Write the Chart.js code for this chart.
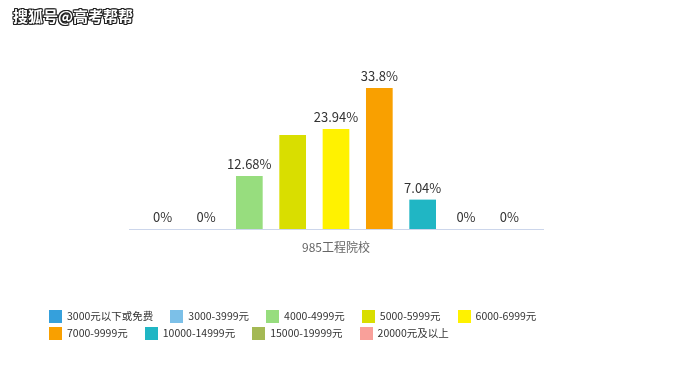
<!DOCTYPE html>
<html>
<head>
<meta charset="utf-8">
<script src="https://cdn.jsdelivr.net/npm/chart.js@4/dist/chart.umd.min.js"></script>
<style>
    html, body { margin: 0; padding: 0; background: #fff; }
    #wrap { position: relative; width: 691px; height: 366px; font-family: "Noto Sans CJK SC", "Noto Sans", sans-serif; }
    #wrap canvas { position: absolute; left: 0; top: 0; }
    .mark {
        position: absolute; left: 13px; top: 5px;
        font-size: 15px; font-weight: bold; color: #fff;
        text-shadow: -1px -1px 0 #222, 1px -1px 0 #222, -1px 1px 0 #222, 1px 1px 0 #222, 1px 0 0 #222, -1px 0 0 #222, 0 1px 0 #222, 0 -1px 0 #222;
    }
    #legend {
        position: absolute; left: 49px; top: 309px; width: 580px;
        display: flex; flex-wrap: wrap; row-gap: 3px; column-gap: 17px;
        font-size: 10.5px; color: #333; line-height: 14px;
    }
    .item { display: flex; align-items: center; white-space: nowrap; }
    .box { width: 13px; height: 13px; margin-right: 5px; }
</style>
</head>
<body>
<div id="wrap">
    <canvas id="salaryChart" width="691" height="366"></canvas>
    <div class="mark">搜狐号@高考帮帮</div>
    <div id="legend"></div>
</div>

<script>
// categories and series
const categories = ['985工程院校'];
const seriesNames = ['3000元以下或免费', '3000-3999元', '4000-4999元', '5000-5999元', '6000-6999元',
    '7000-9999元', '10000-14999元', '15000-19999元', '20000元及以上'];
const seriesValues = [0, 0, 12.68, 22.54, 23.94, 33.8, 7.04, 0, 0];
const seriesColors = ['#35a0dc', '#7cc0e8', '#97dd7e', '#d9de00', '#fff200',
    '#f9a000', '#20b6c4', '#a4b954', '#f9a09a'];
// the 5000-5999 bar has no value label in the original
const showLabel = [true, true, true, false, true, true, true, true, true];

const valueLabels = {
    id: 'valueLabels',
    afterDatasetsDraw(chart) {
        const ctx = chart.ctx;
        ctx.save();
        ctx.font = '13px "Noto Sans CJK SC", "Noto Sans", sans-serif';
        ctx.fillStyle = '#333';
        ctx.textAlign = 'center';
        ctx.textBaseline = 'bottom';
        chart.data.datasets.forEach((ds, i) => {
            if (!showLabel[i]) return;
            const bar = chart.getDatasetMeta(i).data[0];
            ctx.fillText(ds.data[0] + '%', bar.x, bar.y - 5);
        });
        ctx.restore();
    }
};

const chart = new Chart(document.getElementById('salaryChart'), {
    type: 'bar',
    data: {
        labels: categories,
        datasets: seriesNames.map((name, i) => ({
            label: name,
            data: [seriesValues[i]],
            backgroundColor: seriesColors[i],
            categoryPercentage: 0.942,
            barPercentage: 0.616
        }))
    },
    options: {
        responsive: false,
        animation: false,
        layout: { padding: { left: 129, right: 148, top: 62, bottom: 0 } },
        plugins: {
            legend: { display: false },
            tooltip: { enabled: false }
        },
        scales: {
            x: {
                grid: { display: false, drawTicks: true },
                border: { color: '#ccd6eb', width: 1 },
                ticks: { color: '#666', font: { size: 12, family: '"Noto Sans CJK SC", sans-serif' } },
                afterFit: (s) => { s.height = 137; }
            },
            y: { display: false, min: 0, max: 40 }
        }
    },
    plugins: [valueLabels]
});

// html legend from the chart's own legend items
const legendEl = document.getElementById('legend');
chart.options.plugins.legend.labels.generateLabels(chart).forEach(item => {
    const el = document.createElement('div');
    el.className = 'item';
    el.innerHTML = '<span class="box" style="background:' + item.fillStyle + '"></span>' + item.text;
    legendEl.appendChild(el);
});
</script>
</body>
</html>
